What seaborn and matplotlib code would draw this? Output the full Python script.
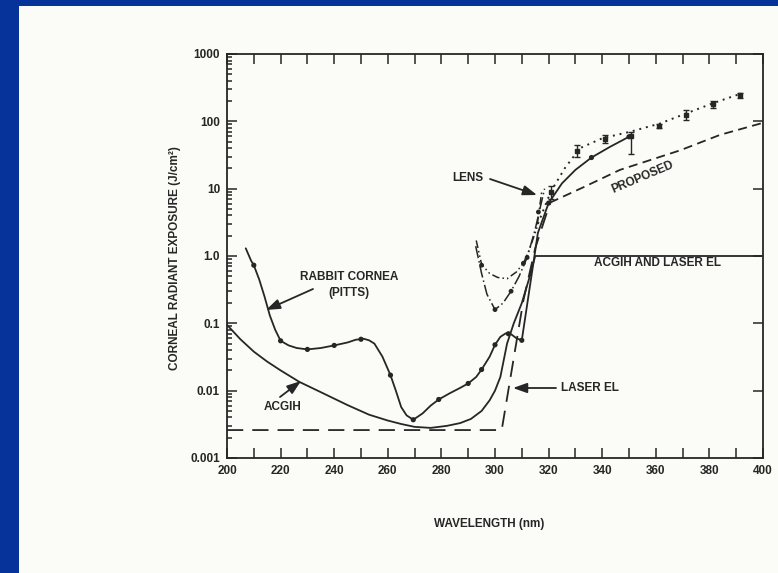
import numpy as np
import pandas as pd
import matplotlib
matplotlib.use("Agg")
import matplotlib.pyplot as plt
from matplotlib.patches import Rectangle
from matplotlib.ticker import MultipleLocator, LogLocator, FixedLocator, FixedFormatter
import seaborn as sns

# -----------------------------
# DATA
# -----------------------------
rabbit_wl = [207, 209, 210, 212, 214, 216, 218, 220, 223, 226, 230, 235, 240, 245, 248,
             251, 253, 255, 258, 261, 263, 265, 267, 269.5, 273, 276, 279, 283, 287, 290,
             293, 295, 298, 300, 302, 304, 306, 308, 310, 313, 316, 320, 325, 330, 336,
             343, 350]
rabbit_val = [1.3, 0.85, 0.73, 0.45, 0.25, 0.13, 0.08, 0.055, 0.047, 0.043, 0.041, 0.043,
              0.047, 0.052, 0.057, 0.059, 0.056, 0.05, 0.032, 0.017, 0.01, 0.0057, 0.0043,
              0.0037, 0.0046, 0.006, 0.0074, 0.0091, 0.011, 0.0128, 0.016, 0.0206, 0.032,
              0.048, 0.063, 0.071, 0.069, 0.06, 0.056, 0.35, 2.2, 6.1, 12, 19, 29, 42, 59]
rabbit_pts_wl = [210, 220, 230, 240, 250, 261, 269.5, 279, 290, 295, 300, 305, 310, 320, 336, 350]
rabbit_pts_val = [0.73, 0.055, 0.041, 0.047, 0.058, 0.017, 0.0037, 0.0074, 0.0128, 0.0206,
                  0.048, 0.07, 0.056, 6.1, 29, 59]

acgih_wl = [200, 205, 210, 215, 220, 227, 235, 245, 253, 260, 265, 270, 276, 282, 287,
            291, 295, 298, 300, 302, 304.5, 307, 310, 313, 315, 400]
acgih_val = [0.095, 0.058, 0.038, 0.027, 0.020, 0.0135, 0.0095, 0.0061, 0.0044, 0.0036,
             0.0032, 0.0029, 0.0028, 0.003, 0.0033, 0.0038, 0.005, 0.0072, 0.01, 0.016,
             0.05, 0.1, 0.2, 0.5, 1.0, 1.0]

laser_wl = [200, 302.5, 310.6, 315, 320.5]
laser_val = [0.0026, 0.0026, 0.22, 1.3, 6.1]

proposed_wl = [320.5, 333, 346.6, 369, 384, 400]
proposed_val = [6.2, 10.5, 19, 37, 63, 95]

lens_a_wl = [293, 295, 298, 301, 304.5, 308, 310.6, 313, 315.6, 317.5]
lens_a_val = [1.7, 0.75, 0.55, 0.48, 0.46, 0.58, 0.78, 1.3, 2.6, 9.5]
lens_a_pts_wl = [295, 310.6, 316.2]
lens_a_pts_val = [0.73, 0.78, 4.5]

lens_b_wl = [292.8, 295, 297, 300, 303, 306, 309, 312, 315, 318.5]
lens_b_val = [1.4, 0.55, 0.27, 0.16, 0.2, 0.3, 0.5, 0.95, 2.5, 10]
lens_b_pts_wl = [300, 306, 312]
lens_b_pts_val = [0.16, 0.3, 0.95]

dotted_wl = [316, 320.8, 326, 331.7, 340, 350.4, 361.6, 371.3, 381.4, 392]
dotted_val = [3.0, 9, 20, 40, 56, 70, 93, 131, 186, 260]

err_wl = [320.8, 330.7, 341.1, 350.8, 361.2, 371.1, 381.2, 391.6]
err_val = [9, 36, 55, 60, 85, 125, 180, 245]
err_lo = [7, 30, 47, 33, 80, 105, 160, 225]
err_hi = [11, 44, 63, 70, 90, 145, 200, 265]

x_ticks = [200, 220, 240, 260, 280, 300, 320, 340, 360, 380, 400]
y_ticks = [0.001, 0.01, 0.1, 1.0, 10, 100, 1000]
y_labels = ["0.001", "0.01", "0.1", "1.0", "10", "100", "1000"]

# -----------------------------
# STYLE
# -----------------------------
sns.set_theme(style="ticks")
plt.rcParams["font.family"] = ["Liberation Sans", "DejaVu Sans"]
INK = "#262626"
PAPER = "#fbfbf7"
BLUE = "#063399"

W, H = 778, 573
fig = plt.figure(figsize=(W / 100, H / 100), dpi=100)
fig.patch.set_facecolor(BLUE)
fig.add_artist(Rectangle((19 / W, 0), 1, 1 - 6 / H, transform=fig.transFigure,
                         facecolor=PAPER, edgecolor="none", zorder=0))

ax = fig.add_axes([227 / W, 1 - 458 / H, (763 - 227) / W, (458 - 54) / H])
ax.set_facecolor(PAPER)


def px(x, y):
    # figure pixel position measured from the top-left corner
    return (x, H - y)


# -----------------------------
# CURVES
# -----------------------------
lw = 1.3
sns.lineplot(x=rabbit_wl, y=rabbit_val, ax=ax, color=INK, lw=lw, sort=False, estimator=None)
sns.scatterplot(x=rabbit_pts_wl, y=rabbit_pts_val, ax=ax, color=INK, s=14, edgecolor="none", zorder=5)

sns.lineplot(x=acgih_wl, y=acgih_val, ax=ax, color=INK, lw=lw, sort=False, estimator=None)

sns.lineplot(x=laser_wl, y=laser_val, ax=ax, color=INK, lw=lw, sort=False, estimator=None,
             linestyle=(0, (9, 5)))
sns.lineplot(x=proposed_wl, y=proposed_val, ax=ax, color=INK, lw=lw, sort=False, estimator=None,
             linestyle=(0, (5, 3)))

sns.lineplot(x=lens_a_wl, y=lens_a_val, ax=ax, color=INK, lw=1.1, sort=False, estimator=None,
             linestyle=(0, (5, 2, 1, 2, 1, 2)))
sns.scatterplot(x=lens_a_pts_wl, y=lens_a_pts_val, ax=ax, color=INK, s=12, edgecolor="none", zorder=5)
sns.lineplot(x=lens_b_wl, y=lens_b_val, ax=ax, color=INK, lw=1.1, sort=False, estimator=None,
             linestyle=(0, (8, 2, 1, 2)))
sns.scatterplot(x=lens_b_pts_wl, y=lens_b_pts_val, ax=ax, color=INK, s=12, edgecolor="none", zorder=5)

sns.lineplot(x=dotted_wl, y=dotted_val, ax=ax, color=INK, lw=1.4, sort=False, estimator=None,
             linestyle=(0, (1, 2.5)))
yerr = [np.array(err_val) - np.array(err_lo), np.array(err_hi) - np.array(err_val)]
ax.errorbar(err_wl, err_val, yerr=yerr, fmt="s", ms=3, color=INK, ecolor=INK,
            elinewidth=1.0, capsize=2, capthick=1.0, zorder=6)

# -----------------------------
# AXES
# -----------------------------
ax.set_yscale("log")
ax.set_xlim(200, 400)
ax.set_ylim(0.001, 1000)
ax.xaxis.set_major_locator(FixedLocator(x_ticks))
ax.xaxis.set_minor_locator(MultipleLocator(10))
ax.yaxis.set_major_locator(FixedLocator(y_ticks))
ax.yaxis.set_major_formatter(FixedFormatter(y_labels))
ax.yaxis.set_minor_locator(LogLocator(base=10, subs=np.arange(2, 10)))
ax.tick_params(which="both", direction="in", top=True, right=True, color=INK, width=1.1)
ax.tick_params(which="major", length=7, labelsize=8.5, labelcolor=INK, pad=5)
ax.tick_params(axis="x", which="minor", length=7)
ax.tick_params(axis="y", which="minor", length=3.5, right=False)
for lab in ax.get_xticklabels() + ax.get_yticklabels():
    lab.set_fontweight("bold")
for sp in ax.spines.values():
    sp.set_color(INK)
    sp.set_linewidth(1.3)
ax.set_xlabel("")
ax.set_ylabel("")

txt = dict(color=INK, fontsize=8.5, fontweight="bold", xycoords="figure pixels")
fig.text(175 / W, 1 - 258 / H, "CORNEAL RADIANT EXPOSURE (J/cm²)", rotation=90,
         ha="center", va="center", color=INK, fontsize=8.5, fontweight="bold")
fig.text(489 / W, 1 - 524 / H, "WAVELENGTH (nm)", ha="center", va="center",
         color=INK, fontsize=8.5, fontweight="bold")

# -----------------------------
# ANNOTATIONS
# -----------------------------
arrow = dict(arrowstyle="-|>,head_length=0.7,head_width=0.25", color=INK, lw=1.3,
             shrinkA=0, shrinkB=0)

ax.annotate("RABBIT CORNEA\n(PITTS)", xy=px(349, 285), ha="center", va="center",
            multialignment="center", linespacing=1.35, **txt)
ax.annotate("", xy=px(266, 310), xytext=px(313, 289), xycoords="figure pixels",
            textcoords="figure pixels", arrowprops=arrow)

ax.annotate("ACGIH", xy=px(283, 407), ha="center", va="center", **txt)
ax.annotate("", xy=px(301, 381), xytext=px(280, 397), xycoords="figure pixels",
            textcoords="figure pixels", arrowprops=arrow)

ax.annotate("LENS", xy=px(468, 178), ha="center", va="center", **txt)
ax.annotate("", xy=px(537, 195), xytext=px(490, 179), xycoords="figure pixels",
            textcoords="figure pixels", arrowprops=arrow)

ax.annotate("PROPOSED", xy=px(643, 177), ha="center", va="center", rotation=23, **txt)
ax.annotate("ACGIH AND LASER EL", xy=px(658, 263), ha="center", va="center", **txt)

ax.annotate("LASER EL", xy=px(561, 388), ha="left", va="center", **txt)
ax.annotate("", xy=px(513, 388), xytext=px(556, 388), xycoords="figure pixels",
            textcoords="figure pixels", arrowprops=arrow)

fig.savefig("out.png", dpi=100, facecolor=fig.get_facecolor())
